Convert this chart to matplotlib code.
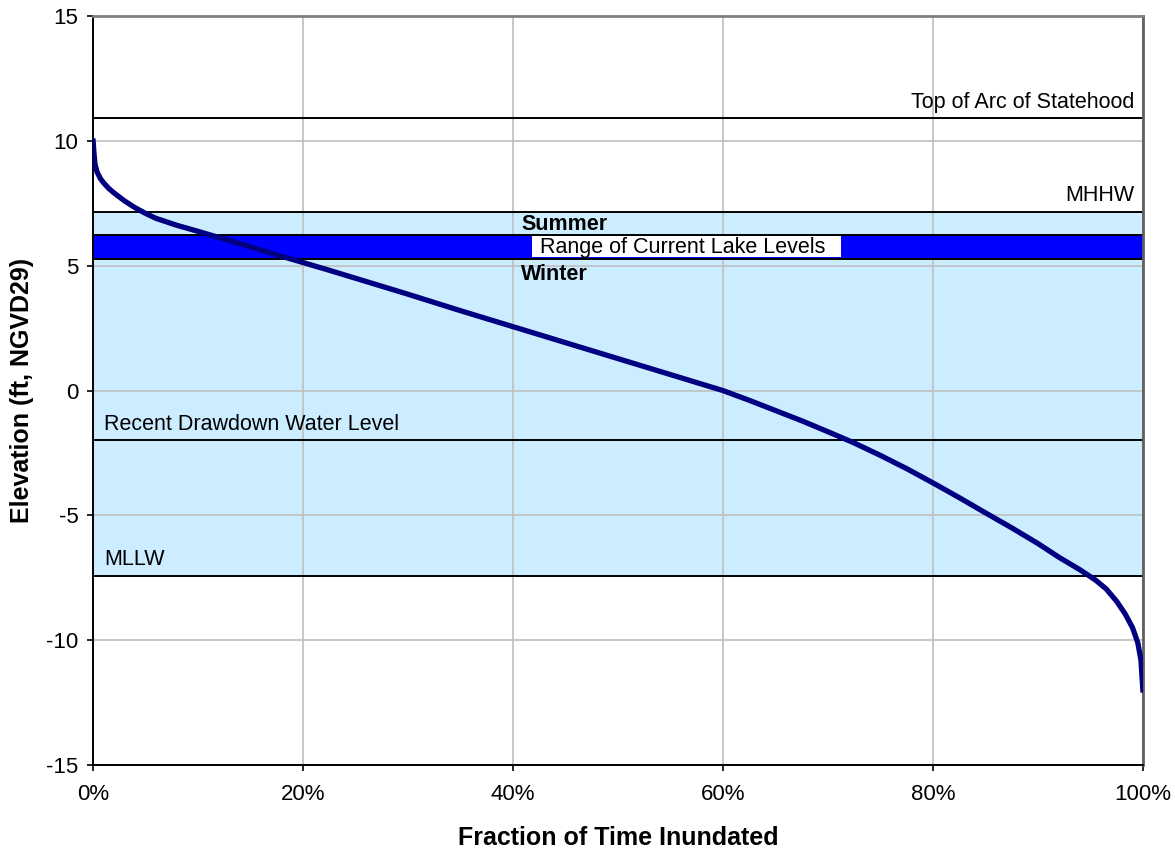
import matplotlib
matplotlib.use('Agg')
import matplotlib.pyplot as plt
import matplotlib.ticker as mticker
from matplotlib.patches import Rectangle
import numpy as np

plt.rcParams['font.family'] = ['Liberation Sans', 'DejaVu Sans']
plt.rcParams['axes.unicode_minus'] = False

# ── Data ──────────────────────────────────────────────────────────────────────
frac_pct = [0, 0.1, 0.2, 0.4, 0.7, 1, 1.5, 2, 3, 4, 5, 6, 8, 10, 12.5, 15,
            17.5, 20, 22.5, 25, 27.5, 30, 32.5, 35, 37.5, 40, 42.5, 45, 47.5,
            50, 52.5, 55, 57.5, 60, 62.5, 65, 67.5, 70, 72.5, 75, 77.5, 80,
            82.5, 85, 87.5, 90, 92, 94, 95.5, 96.5, 97.5, 98.3, 99, 99.5,
            99.8, 100]
elevation = [10.1, 9.5, 9.05, 8.75, 8.5, 8.33, 8.1, 7.92, 7.6, 7.33, 7.1,
             6.9, 6.62, 6.38, 6.07, 5.76, 5.44, 5.13, 4.82, 4.5, 4.18, 3.86,
             3.53, 3.2, 2.88, 2.56, 2.24, 1.92, 1.6, 1.28, 0.96, 0.64, 0.32,
             0.0, -0.39, -0.8, -1.21, -1.65, -2.1, -2.6, -3.13, -3.7, -4.29,
             -4.9, -5.5, -6.13, -6.68, -7.18, -7.6, -7.95, -8.45, -8.95,
             -9.5, -10.1, -10.8, -12.1]

top_arc = 10.9
mhhw = 7.17
summer = 6.25
winter = 5.29
drawdown = -2.0
mllw = -7.41

y_ticks = [-15, -10, -5, 0, 5, 10, 15]
x_ticks = [0, 20, 40, 60, 80, 100]

# ── Plot ──────────────────────────────────────────────────────────────────────
fig = plt.figure(figsize=(11.75, 8.5), dpi=100)
ax = fig.add_axes([0.0791, 0.1, 0.8937, 0.881])

ax.set_xlim(0, 100)
ax.set_ylim(-15, 15)

# shaded tidal range and current lake level band
ax.axhspan(mllw, mhhw, color='#CCECFF', zorder=0, lw=0)
ax.axhspan(winter, summer, color='#0000FF', zorder=1, lw=0)

ax.grid(True, color='#BFBFBF', linewidth=1.2, zorder=0.5)
ax.set_axisbelow(True)

for yv in [top_arc, mhhw, summer, winter, drawdown, mllw]:
    ax.axhline(yv, color='black', linewidth=1.4, zorder=2)

ax.plot(frac_pct, elevation, color='#000080', linewidth=3.8, zorder=4,
        solid_capstyle='butt', solid_joinstyle='round')

# labels on reference lines
fs = 15.5
ax.annotate("Top of Arc of Statehood", (99.2, top_arc), xytext=(0, 4),
            textcoords='offset points', ha='right', va='bottom', fontsize=fs)
ax.annotate("MHHW", (99.2, mhhw), xytext=(0, 4),
            textcoords='offset points', ha='right', va='bottom', fontsize=fs)
ax.annotate("Summer", (40.8, summer), xytext=(0, 0),
            textcoords='offset points', ha='left', va='bottom', fontsize=fs,
            fontweight='bold')
ax.annotate("Winter", (40.8, winter), xytext=(0, -4),
            textcoords='offset points', ha='left', va='top', fontsize=fs,
            fontweight='bold')

# white label box inside the lake-level band
band_pad = 0.06
ax.add_patch(Rectangle((41.8, winter + band_pad), 29.4,
                       summer - winter - 2 * band_pad,
                       facecolor='white', edgecolor='none', zorder=5))
ax.text(42.6, (summer + winter) / 2 - 0.02, "Range of Current Lake Levels",
        ha='left', va='center', fontsize=fs, zorder=6)

ax.annotate("Recent Drawdown Water Level", (1.1, drawdown), xytext=(0, 4),
            textcoords='offset points', ha='left', va='bottom', fontsize=fs)
ax.annotate("MLLW", (1.1, mllw), xytext=(0, 4),
            textcoords='offset points', ha='left', va='bottom', fontsize=fs)

# axes styling
ax.set_yticks(y_ticks)
ax.set_xticks(x_ticks)
ax.xaxis.set_major_formatter(mticker.FuncFormatter(lambda v, _: f"{v:.0f}%"))
ax.tick_params(axis='both', direction='out', length=4.5, width=1.2,
               labelsize=16, color='black')
ax.tick_params(axis='x', pad=9)
ax.tick_params(axis='y', pad=6)

ax.spines['left'].set_color('black')
ax.spines['bottom'].set_color('black')
ax.spines['left'].set_linewidth(1.4)
ax.spines['bottom'].set_linewidth(1.4)
ax.spines['top'].set_color('#808080')
ax.spines['top'].set_linewidth(2)
ax.spines['right'].set_color('#606060')
ax.spines['right'].set_linewidth(2)

ax.set_xlabel("Fraction of Time Inundated", fontsize=18, fontweight='bold',
              va='center')
ax.xaxis.set_label_coords(0.5, -0.0975)
ax.set_ylabel("Elevation (ft, NGVD29)", fontsize=18, fontweight='bold',
              va='center')
ax.yaxis.set_label_coords(-0.0676, 0.5)

fig.savefig("out.png", dpi=100)
plt.close(fig)
